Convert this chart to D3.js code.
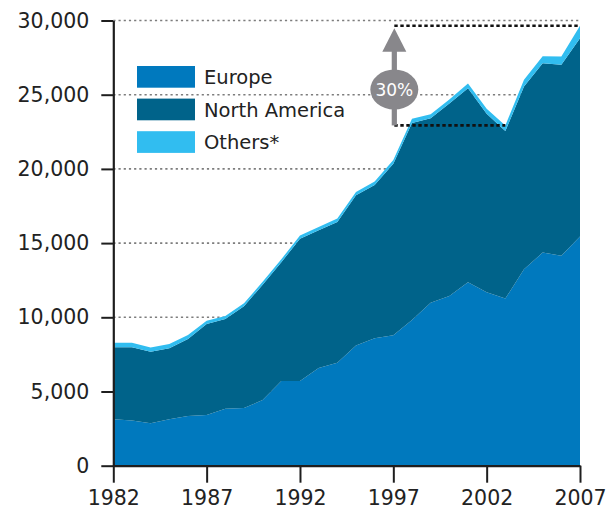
<!DOCTYPE html>
<html>
<head>
<meta charset="utf-8">
<script src="https://cdn.jsdelivr.net/npm/d3@7"></script>
<style>
  html, body { margin: 0; padding: 0; background: #fff; }
  svg { display: block; font-family: "DejaVu Sans", sans-serif; }
</style>
</head>
<body>
<svg id="chart" width="613" height="509"></svg>
<script>
// Yearly values, stacked bottom to top: Europe, North America, Others*
const years = d3.range(1982, 2008);
const europe = [3130, 3040, 2860, 3130, 3350, 3420, 3840, 3890, 4420, 5710, 5710, 6580, 6940,
                8100, 8590, 8790, 9820, 10980, 11440, 12360, 11690, 11260, 13240, 14360, 14150, 15440];
const northAmerica = [4860, 4950, 4820, 4790, 5180, 6130, 6050, 6850, 7780, 8000, 9590, 9290, 9480,
                      10120, 10320, 11560, 13280, 12440, 12970, 13070, 12030, 11290, 12310, 12760, 12860, 13360];
const others = [300, 300, 280, 280, 270, 220, 200, 200, 200, 200, 220, 220, 230,
                230, 240, 250, 280, 260, 270, 320, 330, 380, 450, 470, 560, 850];

const seriesNames = ["Europe", "North America", "Others*"];
const seriesColors = ["#0079be", "#00638a", "#31bdf0"];
const yTicks = [0, 5000, 10000, 15000, 20000, 25000, 30000];
const xTicks = [1982, 1987, 1992, 1997, 2002, 2007];

// Growth annotation: from the 2003 low to the 2007 level
const growthFrom = 2003, growthTo = 2007, growthAnchor = 1997, growthLabel = "30%";

const rows = years.map((yr, i) => ({
  year: yr, "Europe": europe[i], "North America": northAmerica[i], "Others*": others[i]
}));

const svg = d3.select("#chart");
const x = d3.scaleLinear().domain([1982, 2007]).range([113.3, 580]);
const y = d3.scaleLinear().domain([0, 30000]).range([465.7, 20.5]);

// Dotted gridlines behind the areas
svg.append("g").selectAll("line")
  .data(yTicks.filter(d => d > 0))
  .join("line")
  .attr("x1", x(1982)).attr("x2", x(2007))
  .attr("y1", d => y(d)).attr("y2", d => y(d))
  .attr("stroke", "#7d7d7d")
  .attr("stroke-width", 1.6)
  .attr("stroke-dasharray", "2.2,3");

// Stacked areas
const stack = d3.stack().keys(seriesNames);
const layers = stack(rows);
const area = d3.area()
  .x(d => x(d.data.year))
  .y0(d => y(d[0]))
  .y1(d => y(d[1]));

svg.append("g").selectAll("path")
  .data(layers)
  .join("path")
  .attr("fill", (d, i) => seriesColors[i])
  .attr("d", area);

// Axes
const axisColor = "#1e1e1e";
const yAxis = svg.append("g")
  .attr("transform", `translate(${x(1982)},0)`)
  .call(d3.axisLeft(y).tickValues(yTicks).tickFormat(d3.format(",")).tickSize(12).tickPadding(12).tickSizeOuter(0));
const xAxis = svg.append("g")
  .attr("transform", `translate(0,${y(0)})`)
  .call(d3.axisBottom(x).tickValues(xTicks).tickFormat(d3.format("d")).tickSize(17).tickPadding(8).tickSizeOuter(0));

[yAxis, xAxis].forEach(g => {
  g.select(".domain").attr("stroke", axisColor).attr("stroke-width", 2.2);
  g.selectAll(".tick line").attr("stroke", axisColor).attr("stroke-width", 2);
  g.selectAll(".tick text")
    .attr("fill", "#222")
    .style("font-size", "20.5px")
    .style("font-family", "'DejaVu Sans', sans-serif");
});

// Legend
const legend = svg.append("g").attr("transform", "translate(137,66)");
seriesNames.forEach((name, i) => {
  const row = legend.append("g").attr("transform", `translate(0,${i * 32.6})`);
  row.append("rect").attr("width", 58).attr("height", 21.7).attr("fill", seriesColors[i]);
  row.append("text")
    .attr("x", 67).attr("y", 18)
    .attr("fill", "#222")
    .style("font-size", "19.5px")
    .text(name);
});

// Growth annotation
const totals = rows.map(r => r["Europe"] + r["North America"] + r["Others*"]);
const lowTotal = totals[years.indexOf(growthFrom)];
const highTotal = totals[years.indexOf(growthTo)];
const ax = x(growthAnchor) + 1;
const ann = svg.append("g");

ann.append("line")
  .attr("x1", ax).attr("x2", x(growthTo))
  .attr("y1", y(highTotal)).attr("y2", y(highTotal))
  .attr("stroke", "#111").attr("stroke-width", 2.6).attr("stroke-dasharray", "3.4,2.6");
ann.append("line")
  .attr("x1", ax).attr("x2", x(growthFrom))
  .attr("y1", y(lowTotal)).attr("y2", y(lowTotal))
  .attr("stroke", "#111").attr("stroke-width", 2.6).attr("stroke-dasharray", "3.4,2.6");

const gray = "#88878b";
const tipY = y(highTotal) + 2.5;
ann.append("rect")
  .attr("x", ax - 2.6).attr("width", 5.2)
  .attr("y", tipY + 22).attr("height", y(lowTotal) - tipY - 22)
  .attr("fill", gray);
ann.append("path")
  .attr("d", `M${ax},${tipY} L${ax + 12},${tipY + 23.5} L${ax - 12},${tipY + 23.5} Z`)
  .attr("fill", gray);
const midY = (tipY + 23.5 + y(lowTotal)) / 2 + 1;
ann.append("ellipse")
  .attr("cx", ax).attr("cy", midY).attr("rx", 24).attr("ry", 20)
  .attr("fill", gray);
ann.append("text")
  .attr("x", ax).attr("y", midY + 6.2)
  .attr("text-anchor", "middle")
  .attr("fill", "#fff")
  .style("font-size", "17px")
  .text(growthLabel);
</script>
</body>
</html>
